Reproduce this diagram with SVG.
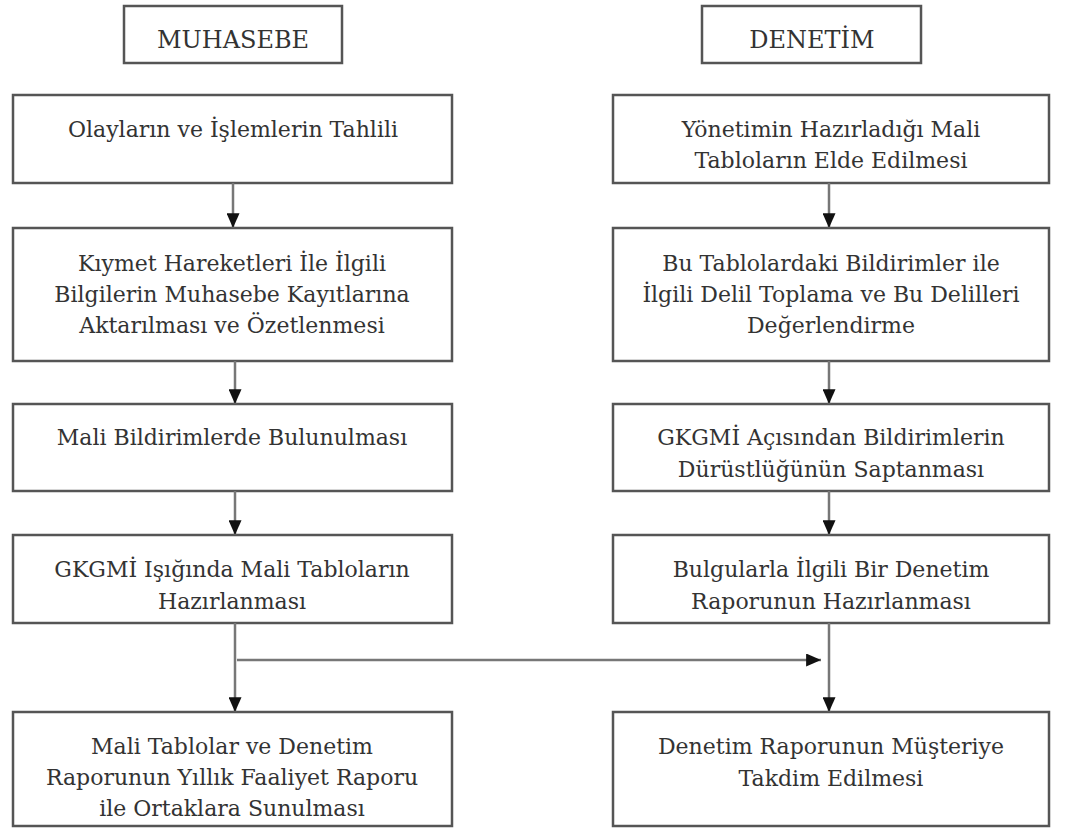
<svg xmlns="http://www.w3.org/2000/svg" width="1072" height="831" viewBox="0 0 1072 831">
<defs>
<style>
.box{fill:#fff;stroke:#555;stroke-width:2.5}
.t{font-family:"DejaVu Serif","Liberation Serif",serif;font-size:22px;fill:#333;text-anchor:middle}
.h{font-size:24px}
.ln{stroke:#777;stroke-width:2.5;fill:none}
</style>
<marker id="arr" viewBox="0 0 16 14" refX="16" refY="7" markerWidth="15" markerHeight="13" orient="auto" markerUnits="userSpaceOnUse">
<path d="M0,0 L16,7 L0,14 Z" fill="#111"/>
</marker>
</defs>
<rect width="1072" height="831" fill="#fff"/>
<g id="h-muhasebe"><rect class="box" x="124" y="6" width="218" height="57"/><text class="t h" x="233" y="48">MUHASEBE</text></g>
<g id="h-denetim"><rect class="box" x="702" y="6" width="219" height="57"/><text class="t h" x="812" y="48">DENETİM</text></g>

<g id="l1"><rect class="box" x="13" y="95" width="439" height="88"/><text class="t" x="233" y="137">Olayların ve İşlemlerin Tahlili</text></g>
<g id="l2"><rect class="box" x="13" y="228" width="439" height="133"/><text class="t" x="232" y="271">Kıymet Hareketleri İle İlgili</text><text class="t" x="232" y="302">Bilgilerin Muhasebe Kayıtlarına</text><text class="t" x="232" y="333">Aktarılması ve Özetlenmesi</text></g>
<g id="l3"><rect class="box" x="13" y="404" width="439" height="87"/><text class="t" x="232" y="445">Mali Bildirimlerde Bulunulması</text></g>
<g id="l4"><rect class="box" x="13" y="535" width="439" height="88"/><text class="t" x="232" y="577">GKGMİ Işığında Mali Tabloların</text><text class="t" x="232" y="609">Hazırlanması</text></g>
<g id="l5"><rect class="box" x="13" y="712" width="439" height="114"/><text class="t" x="232" y="754">Mali Tablolar ve Denetim</text><text class="t" x="232" y="785">Raporunun Yıllık Faaliyet Raporu</text><text class="t" x="232" y="816">ile Ortaklara Sunulması</text></g>

<g id="r1"><rect class="box" x="613" y="95" width="436" height="88"/><text class="t" x="831" y="137">Yönetimin Hazırladığı Mali</text><text class="t" x="831" y="168">Tabloların Elde Edilmesi</text></g>
<g id="r2"><rect class="box" x="613" y="228" width="436" height="133"/><text class="t" x="831" y="271">Bu Tablolardaki Bildirimler ile</text><text class="t" x="831" y="302">İlgili Delil Toplama ve Bu Delilleri</text><text class="t" x="831" y="333">Değerlendirme</text></g>
<g id="r3"><rect class="box" x="613" y="404" width="436" height="87"/><text class="t" x="831" y="445">GKGMİ Açısından Bildirimlerin</text><text class="t" x="831" y="477">Dürüstlüğünün Saptanması</text></g>
<g id="r4"><rect class="box" x="613" y="535" width="436" height="88"/><text class="t" x="831" y="577">Bulgularla İlgili Bir Denetim</text><text class="t" x="831" y="609">Raporunun Hazırlanması</text></g>
<g id="r5"><rect class="box" x="613" y="712" width="436" height="114"/><text class="t" x="831" y="754">Denetim Raporunun Müşteriye</text><text class="t" x="831" y="786">Takdim Edilmesi</text></g>

<g id="connectors">
<line class="ln" x1="233" y1="183" x2="233" y2="228" marker-end="url(#arr)"/>
<line class="ln" x1="235" y1="361" x2="235" y2="404" marker-end="url(#arr)"/>
<line class="ln" x1="235" y1="491" x2="235" y2="535" marker-end="url(#arr)"/>
<line class="ln" x1="235" y1="623" x2="235" y2="712" marker-end="url(#arr)"/>
<line class="ln" x1="237" y1="660" x2="821" y2="660" marker-end="url(#arr)"/>
<line class="ln" x1="829" y1="183" x2="829" y2="228" marker-end="url(#arr)"/>
<line class="ln" x1="829" y1="361" x2="829" y2="404" marker-end="url(#arr)"/>
<line class="ln" x1="829" y1="491" x2="829" y2="535" marker-end="url(#arr)"/>
<line class="ln" x1="829" y1="623" x2="829" y2="712" marker-end="url(#arr)"/>
</g>
</svg>
